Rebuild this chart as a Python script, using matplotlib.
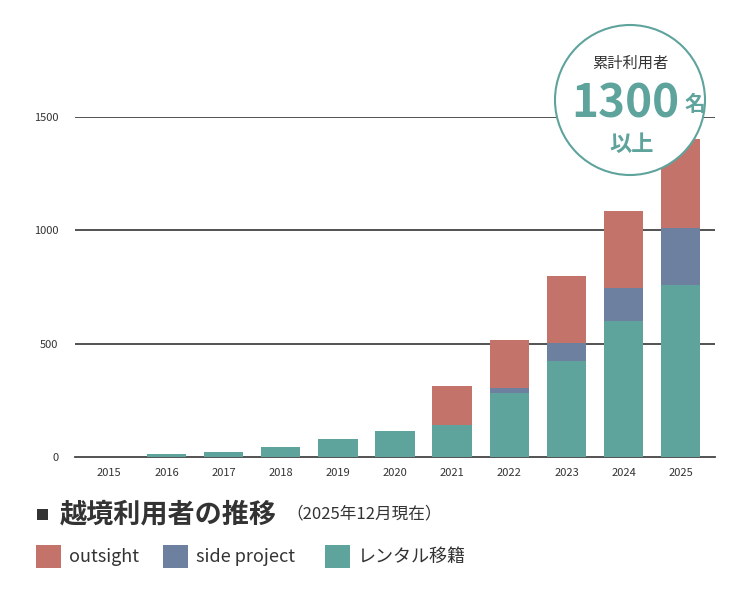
import matplotlib
matplotlib.use('Agg')
import matplotlib.pyplot as plt
import matplotlib.patches as mpatches

plt.rcParams['font.family'] = ['Noto Sans CJK JP', 'DejaVu Sans']

years = ['2015', '2016', '2017', '2018', '2019', '2020', '2021', '2022', '2023', '2024', '2025']
rental = [0, 13, 22, 44, 80, 115, 141, 283, 424, 601, 760]
side_project = [0, 0, 0, 0, 0, 0, 0, 22, 80, 146, 252]
outsight = [0, 0, 0, 0, 0, 0, 173, 212, 296, 340, 389]

c_red = '#C4736B'
c_blue = '#6E80A0'
c_teal = '#5FA39D'
c_text = '#333333'

W, H = 751, 593
fig = plt.figure(figsize=(W / 100, H / 100), dpi=100)
ax = fig.add_axes([75 / W, 1 - 457 / H, 640 / W, 340 / H])

x = range(len(years))
bottom2 = [r + s for r, s in zip(rental, side_project)]
ax.bar(x, rental, 0.69, color=c_teal, zorder=3)
ax.bar(x, side_project, 0.69, bottom=rental, color=c_blue, zorder=3)
ax.bar(x, outsight, 0.69, bottom=bottom2, color=c_red, zorder=3)

ax.set_ylim(0, 1500)
ax.set_xlim(-0.6, len(years) - 0.4)
ax.set_yticks([0, 500, 1000, 1500])
ax.set_xticks(list(x))
ax.set_xticklabels(years)
ax.tick_params(length=0, labelsize=8, colors=c_text, pad=8)
ax.tick_params(axis='y', pad=12)
for v in [500, 1000, 1500]:
    ax.axhline(v, color='#444444', lw=1.3, zorder=1)
for s in ['top', 'right', 'left']:
    ax.spines[s].set_visible(False)
ax.spines['bottom'].set_color('#444444')
ax.spines['bottom'].set_linewidth(1.3)

# circle badge
circ = mpatches.Ellipse((630 / W, 1 - 100 / H), 150 / W, 150 / H, transform=fig.transFigure,
                        facecolor='white', edgecolor=c_teal, lw=1.5, zorder=10)
fig.patches.append(circ)
fig.text(630 / W, 1 - 63 / H, '累計利用者', ha='center', va='center', fontsize=11, color=c_text, zorder=11)
fig.text(625 / W, 1 - 104 / H, '1300', ha='center', va='center', fontsize=33, fontweight='bold', color=c_teal, zorder=11)
fig.text(695 / W, 1 - 104 / H, '名', ha='center', va='center', fontsize=15, fontweight='bold', color=c_teal, zorder=11)
fig.text(632 / W, 1 - 144 / H, '以上', ha='center', va='center', fontsize=16, fontweight='bold', color=c_teal, zorder=11)

# title
fig.patches.append(mpatches.Rectangle((37 / W, 1 - 520 / H), 11 / W, 11 / H, transform=fig.transFigure,
                                      facecolor=c_text, edgecolor='none'))
fig.text(60 / W, 1 - 514 / H, '越境利用者の推移', ha='left', va='center', fontsize=19.5, fontweight='bold', color=c_text)
fig.text(286 / W, 1 - 514 / H, '（2025年12月現在）', ha='left', va='center', fontsize=12, color=c_text)

# legend
legend_items = [(36, c_red, 'outsight'), (163, c_blue, 'side project'), (325, c_teal, 'レンタル移籍')]
for lx, col, lab in legend_items:
    fig.patches.append(mpatches.Rectangle((lx / W, 1 - 568 / H), 25 / W, 23 / H, transform=fig.transFigure,
                                          facecolor=col, edgecolor='none'))
    fig.text((lx + 33) / W, 1 - 557 / H, lab, ha='left', va='center', fontsize=13, color=c_text)

fig.savefig('out.png', dpi=100)
